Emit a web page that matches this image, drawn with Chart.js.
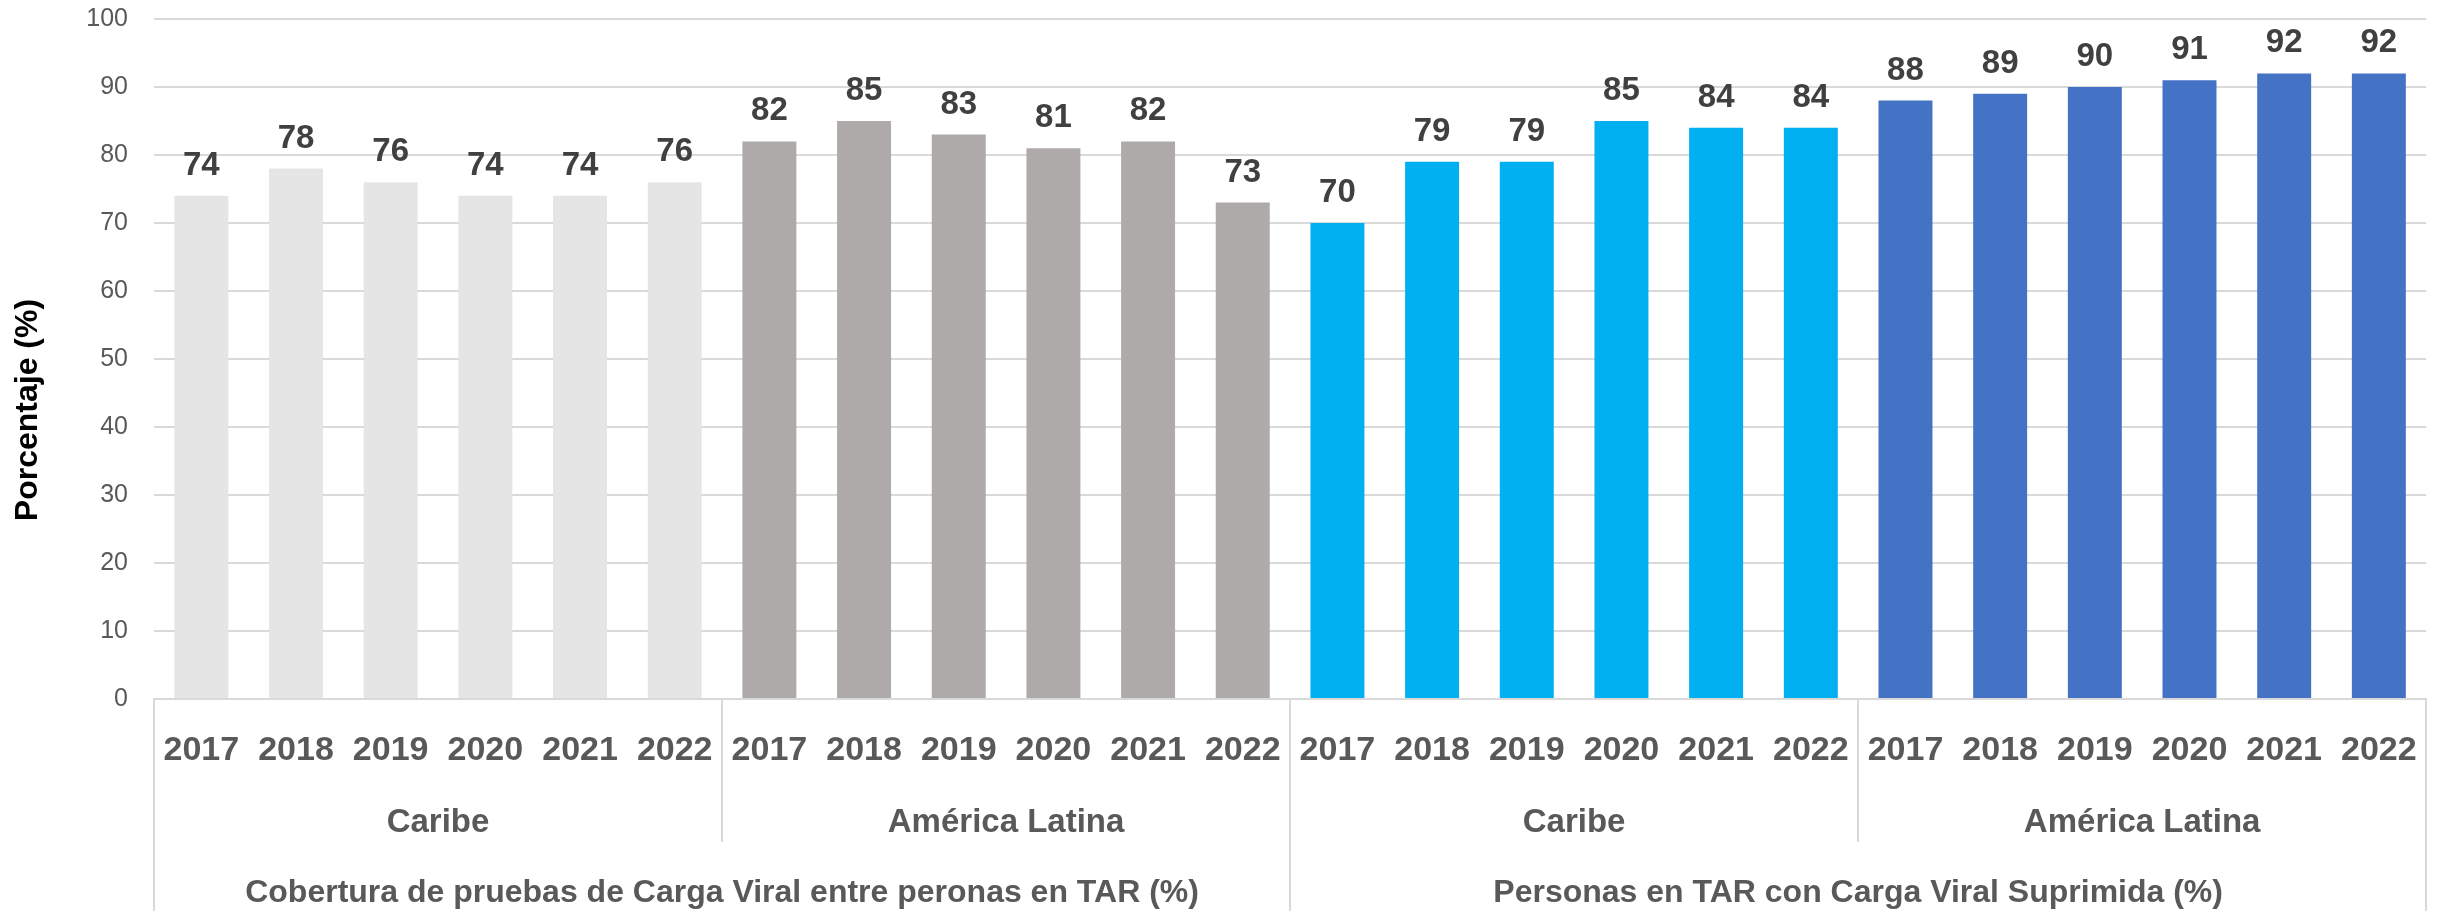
<!DOCTYPE html>
<html>
<head>
<meta charset="utf-8">
<script src="https://cdn.jsdelivr.net/npm/chart.js@4/dist/chart.umd.min.js"></script>
<style>
  html, body { margin: 0; padding: 0; background: #fff; }
  #wrap { width: 2448px; height: 911px; }
</style>
</head>
<body>
<div id="wrap"><canvas id="vlChart"></canvas></div>
<script>
const years = ["2017", "2018", "2019", "2020", "2021", "2022"];
const regions = ["Caribe", "América Latina", "Caribe", "América Latina"];
const indicators = [
  "Cobertura de pruebas de Carga Viral entre peronas en TAR (%)",
  "Personas en TAR con Carga Viral Suprimida (%)",
];
const yTitle = "Porcentaje (%)";
const coberturaCaribe = [74, 78, 76, 74, 74, 76];
const coberturaLatina = [82, 85, 83, 81, 82, 73];
const suprimidaCaribe = [70, 79, 79, 85, 84, 84];
const suprimidaLatina = [88, 89, 90, 91, 92, 92];
const groupColors = ["#e5e5e5", "#aeaaaa", "#00b0f0", "#4472c4"];

const groups = [coberturaCaribe, coberturaLatina, suprimidaCaribe, suprimidaLatina];
const labels = groups.flatMap(() => years);
const values = groups.flat();
const colors = groups.flatMap((g, i) => g.map(() => groupColors[i]));

const FONT = "'Liberation Sans', Arial, sans-serif";
const LINE = "#d9d9d9";

// value labels above each bar
const barValues = {
  id: "barValues",
  afterDatasetsDraw(chart) {
    const ctx = chart.ctx;
    const meta = chart.getDatasetMeta(0);
    ctx.save();
    ctx.font = "bold 33px " + FONT;
    ctx.fillStyle = "#404040";
    ctx.textAlign = "center";
    ctx.textBaseline = "alphabetic";
    meta.data.forEach((bar, i) => {
      ctx.fillText(String(values[i]), bar.x, bar.y - 21);
    });
    ctx.restore();
  },
};

// second and third level of the category axis, plus the y title
const multiLevel = {
  id: "multiLevel",
  afterDraw(chart) {
    const ctx = chart.ctx;
    const x = chart.scales.x;
    const n = labels.length;
    const edge = (i) => {
      if (i <= 0) return x.left;
      if (i >= n) return x.right;
      return (x.getPixelForValue(i - 1) + x.getPixelForValue(i)) / 2;
    };
    const top = x.top;
    const bottom = chart.height;
    const midLevel = 842;

    ctx.save();
    ctx.strokeStyle = LINE;
    ctx.lineWidth = 2;
    const vline = (px, y2) => {
      ctx.beginPath();
      ctx.moveTo(Math.round(px), top);
      ctx.lineTo(Math.round(px), y2);
      ctx.stroke();
    };
    vline(edge(0), bottom);
    vline(edge(n), bottom);
    for (let g = 1; g < regions.length; g++) {
      const at = g * years.length;
      vline(edge(at), at % (n / 2) === 0 ? bottom : midLevel);
    }

    ctx.fillStyle = "#595959";
    ctx.font = "bold 33px " + FONT;
    ctx.textAlign = "center";
    ctx.textBaseline = "alphabetic";
    regions.forEach((r, g) => {
      const a = edge(g * years.length);
      const b = edge((g + 1) * years.length);
      ctx.fillText(r, (a + b) / 2, 832);
    });
    ctx.font = "bold 32px " + FONT;
    const per = n / indicators.length;
    indicators.forEach((t, k) => {
      const a = edge(k * per);
      const b = edge((k + 1) * per);
      ctx.fillText(t, (a + b) / 2, 902);
    });

    // axis title sits a bit below the plot middle, like in the original
    ctx.translate(28, 410);
    ctx.rotate(-Math.PI / 2);
    ctx.fillStyle = "#000";
    ctx.font = "bold 32px " + FONT;
    ctx.textBaseline = "middle";
    ctx.fillText(yTitle, 0, 0);
    ctx.restore();
  },
};

new Chart(document.getElementById("vlChart"), {
  type: "bar",
  data: {
    labels: labels,
    datasets: [
      {
        label: "Porcentaje",
        data: values,
        backgroundColor: colors,
        borderWidth: 0,
        categoryPercentage: 1,
        barPercentage: 0.57,
      },
    ],
  },
  options: {
    responsive: true,
    maintainAspectRatio: false,
    animation: false,
    layout: { padding: { left: 0, right: 16, top: 19, bottom: 0 } },
    plugins: {
      legend: { display: false },
      tooltip: { enabled: false },
    },
    scales: {
      x: {
        grid: { display: false, drawTicks: false },
        border: { display: true, color: LINE, width: 2 },
        ticks: {
          autoSkip: false,
          maxRotation: 0,
          padding: 31,
          color: "#595959",
          font: { family: FONT, size: 34, weight: "bold" },
        },
        afterFit(scale) {
          scale.height = 212;
        },
      },
      y: {
        min: 0,
        max: 100,
        ticks: {
          stepSize: 10,
          padding: 0,
          color: "#595959",
          font: { family: FONT, size: 25 },
        },
        grid: {
          color: LINE,
          lineWidth: 2,
          drawTicks: true,
          tickLength: 26,
          tickColor: "rgba(0,0,0,0)",
        },
        border: { display: false },
        afterFit(scale) {
          scale.width = 154;
        },
      },
    },
  },
  plugins: [barValues, multiLevel],
});
</script>
</body>
</html>
